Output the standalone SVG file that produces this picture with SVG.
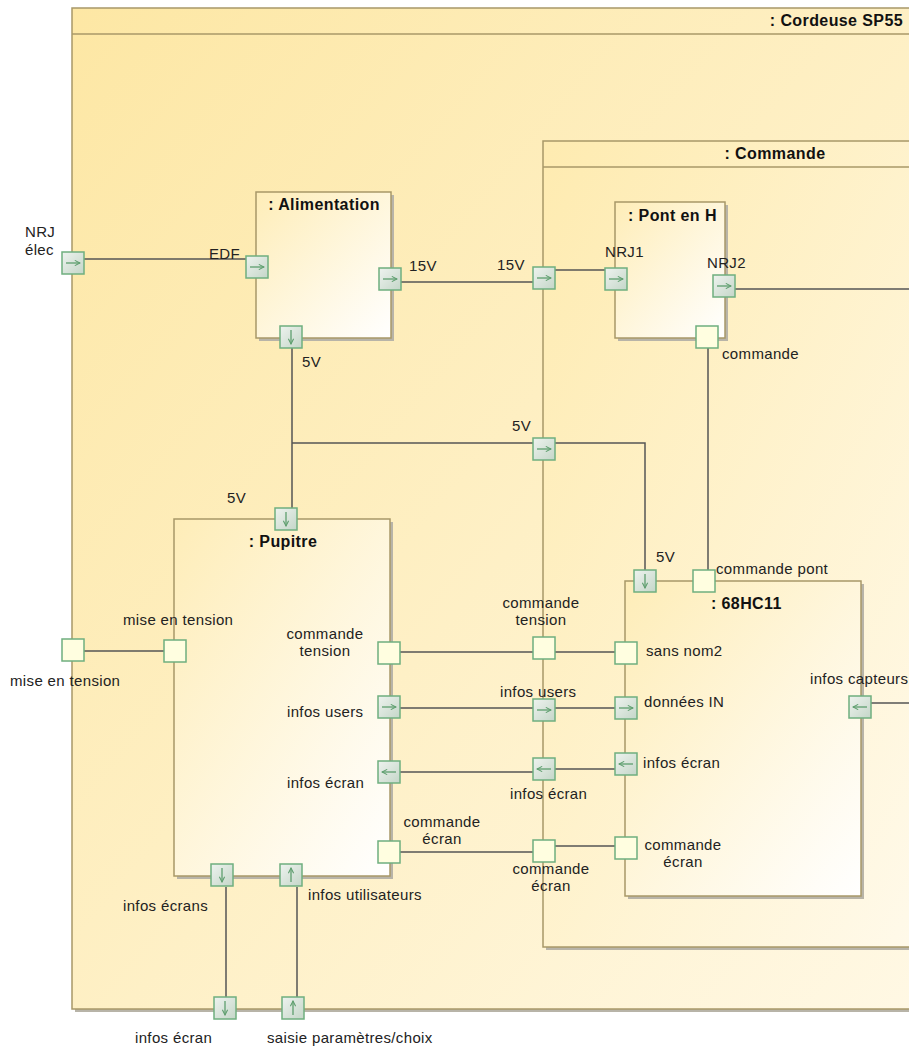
<svg xmlns="http://www.w3.org/2000/svg" xmlns:xlink="http://www.w3.org/1999/xlink" width="909" height="1048" viewBox="0 0 909 1048">
<style>
text{font-family:"Liberation Sans",Arial,sans-serif;font-size:15px;letter-spacing:0.35px;fill:#222}
.t{font-weight:bold;font-size:16px;letter-spacing:0.4px;fill:#111}
.m{text-anchor:middle}
.frame{stroke:#A89868;stroke-width:1.5}
.blk{fill:url(#gBlk);stroke:#A89868;stroke-width:1.5}
.sh{fill:#B8B4A8}
.c{fill:none;stroke:#555;stroke-width:1.5}
</style>
<defs>
<linearGradient id="gFrame" x1="0" y1="0" x2="1" y2="1">
<stop offset="0" stop-color="#FDE7A4"/><stop offset="1" stop-color="#FFF8E4"/>
</linearGradient>
<linearGradient id="gFrame2" x1="0" y1="0" x2="1" y2="1">
<stop offset="0" stop-color="#FEEBB0"/><stop offset="1" stop-color="#FFFAEC"/>
</linearGradient>
<linearGradient id="gBlk" x1="0" y1="0" x2="1" y2="1">
<stop offset="0" stop-color="#FEEDB8"/><stop offset="1" stop-color="#FFFFFF"/>
</linearGradient>
<linearGradient id="gPort" x1="0" y1="0" x2="1" y2="1">
<stop offset="0" stop-color="#EEF3EF"/><stop offset="1" stop-color="#C4D6C8"/>
</linearGradient>
<marker id="ah" viewBox="0 0 10 10" refX="9" refY="5" markerWidth="5" markerHeight="5" orient="auto">
<path d="M1,1 L9,5 L1,9" fill="none" stroke="#5E9E6E" stroke-width="1.6"/>
</marker>
<g id="pr"><rect x="-11" y="-11" width="22" height="22" fill="url(#gPort)" stroke="#6FAF7F" stroke-width="1.5"/><line x1="-7" y1="0" x2="7" y2="0" stroke="#5E9E6E" stroke-width="1.3" marker-end="url(#ah)"/></g>
<g id="pl"><rect x="-11" y="-11" width="22" height="22" fill="url(#gPort)" stroke="#6FAF7F" stroke-width="1.5"/><line x1="7" y1="0" x2="-7" y2="0" stroke="#5E9E6E" stroke-width="1.3" marker-end="url(#ah)"/></g>
<g id="pd"><rect x="-11" y="-11" width="22" height="22" fill="url(#gPort)" stroke="#6FAF7F" stroke-width="1.5"/><line x1="0" y1="-7" x2="0" y2="7" stroke="#5E9E6E" stroke-width="1.3" marker-end="url(#ah)"/></g>
<g id="pu"><rect x="-11" y="-11" width="22" height="22" fill="url(#gPort)" stroke="#6FAF7F" stroke-width="1.5"/><line x1="0" y1="7" x2="0" y2="-7" stroke="#5E9E6E" stroke-width="1.3" marker-end="url(#ah)"/></g>
<g id="pp"><rect x="-11" y="-11" width="22" height="22" fill="#FFFEE0" stroke="#6FAF7F" stroke-width="1.5"/></g>
</defs>
<rect width="909" height="1048" fill="#FFFFFF"/>

<g id="cordeuse">
<rect class="sh" x="75" y="11" width="840" height="1001"/>
<rect class="frame" x="72" y="8" width="840" height="1001" fill="url(#gFrame)"/>
<line class="frame" x1="72" y1="34" x2="909" y2="34"/>
<text class="t" x="903" y="26" text-anchor="end">: Cordeuse SP55</text>
</g>

<g id="commande">
<rect class="sh" x="546" y="144" width="400" height="806"/>
<rect class="frame" x="543" y="141" width="400" height="806" fill="url(#gFrame2)"/>
<line class="frame" x1="543" y1="167" x2="909" y2="167"/>
<text class="t m" x="775" y="159">: Commande</text>
</g>

<g id="alimentation">
<rect class="sh" x="259" y="195" width="135" height="146"/>
<rect class="blk" x="256" y="192" width="135" height="146"/>
<text class="t m" x="324" y="210">: Alimentation</text>
</g>

<g id="pont">
<rect class="sh" x="618" y="205" width="110" height="136"/>
<rect class="blk" x="615" y="202" width="110" height="136"/>
<text class="t" x="628" y="221">: Pont en H</text>
</g>

<g id="pupitre">
<rect class="sh" x="177" y="522" width="216" height="357"/>
<rect class="blk" x="174" y="519" width="216" height="357"/>
<text class="t m" x="283" y="547">: Pupitre</text>
</g>

<g id="hc11">
<rect class="sh" x="628" y="584" width="236" height="315"/>
<rect class="blk" x="625" y="581" width="236" height="315"/>
<text class="t" x="711" y="609">: 68HC11</text>
</g>

<g id="connectors">
<path class="c" d="M84,259 H246"/>
<path class="c" d="M401,282 H533"/>
<path class="c" d="M555,270 H605"/>
<path class="c" d="M735,289 H909"/>
<path class="c" d="M708,348 V570"/>
<path class="c" d="M292,348 V508"/>
<path class="c" d="M292,443 H533"/>
<path class="c" d="M555,443 H645 V570"/>
<path class="c" d="M84,651 H164"/>
<path class="c" d="M400,652 H533"/>
<path class="c" d="M555,652 H615"/>
<path class="c" d="M400,708 H533"/>
<path class="c" d="M555,708 H615"/>
<path class="c" d="M400,772 H533"/>
<path class="c" d="M555,769 H615"/>
<path class="c" d="M400,852 H533"/>
<path class="c" d="M555,846 H615"/>
<path class="c" d="M871,703 H909"/>
<path class="c" d="M226,887 V997"/>
<path class="c" d="M297,887 V997"/>
</g>

<g id="ports">
<use xlink:href="#pr" x="73" y="263"/>
<use xlink:href="#pr" x="257" y="267"/>
<use xlink:href="#pr" x="390" y="279"/>
<use xlink:href="#pd" x="291" y="337"/>
<use xlink:href="#pr" x="544" y="278"/>
<use xlink:href="#pr" x="616" y="279"/>
<use xlink:href="#pr" x="724" y="286"/>
<use xlink:href="#pp" x="707" y="337"/>
<use xlink:href="#pr" x="544" y="449"/>
<use xlink:href="#pd" x="286" y="519"/>
<use xlink:href="#pd" x="645" y="581"/>
<use xlink:href="#pp" x="704" y="581"/>
<use xlink:href="#pp" x="73" y="650"/>
<use xlink:href="#pp" x="175" y="651"/>
<use xlink:href="#pp" x="389" y="653"/>
<use xlink:href="#pp" x="544" y="648"/>
<use xlink:href="#pp" x="626" y="653"/>
<use xlink:href="#pr" x="389" y="707"/>
<use xlink:href="#pr" x="544" y="710"/>
<use xlink:href="#pr" x="626" y="708"/>
<use xlink:href="#pl" x="860" y="707"/>
<use xlink:href="#pl" x="389" y="772"/>
<use xlink:href="#pl" x="544" y="769"/>
<use xlink:href="#pl" x="626" y="764"/>
<use xlink:href="#pp" x="389" y="852"/>
<use xlink:href="#pp" x="544" y="851"/>
<use xlink:href="#pp" x="626" y="848"/>
<use xlink:href="#pd" x="222" y="875"/>
<use xlink:href="#pu" x="291" y="875"/>
<use xlink:href="#pd" x="225" y="1008"/>
<use xlink:href="#pu" x="293" y="1008"/>
</g>

<g id="labels">
<text x="25" y="237">NRJ</text>
<text x="25" y="255">élec</text>
<text x="209" y="259">EDF</text>
<text x="409" y="271">15V</text>
<text x="497" y="270">15V</text>
<text x="302" y="367">5V</text>
<text x="605" y="257">NRJ1</text>
<text x="707" y="268">NRJ2</text>
<text x="722" y="359">commande</text>
<text x="512" y="431">5V</text>
<text x="227" y="503">5V</text>
<text x="656" y="562">5V</text>
<text x="716" y="574">commande pont</text>
<text x="123" y="625">mise en tension</text>
<text x="10" y="686">mise en tension</text>
<text class="m" x="325" y="639">commande</text>
<text class="m" x="325" y="656">tension</text>
<text class="m" x="541" y="608">commande</text>
<text class="m" x="541" y="625">tension</text>
<text x="646" y="656">sans nom2</text>
<text x="287" y="717">infos users</text>
<text x="500" y="697">infos users</text>
<text x="644" y="707">données IN</text>
<text x="810" y="684">infos capteurs</text>
<text x="287" y="788">infos écran</text>
<text x="510" y="799">infos écran</text>
<text x="643" y="768">infos écran</text>
<text class="m" x="442" y="827">commande</text>
<text class="m" x="442" y="844">écran</text>
<text class="m" x="551" y="874">commande</text>
<text class="m" x="551" y="891">écran</text>
<text class="m" x="683" y="850">commande</text>
<text class="m" x="683" y="867">écran</text>
<text x="123" y="911">infos écrans</text>
<text x="308" y="900">infos utilisateurs</text>
<text x="135" y="1043">infos écran</text>
<text x="267" y="1043">saisie paramètres/choix</text>
</g>
</svg>
